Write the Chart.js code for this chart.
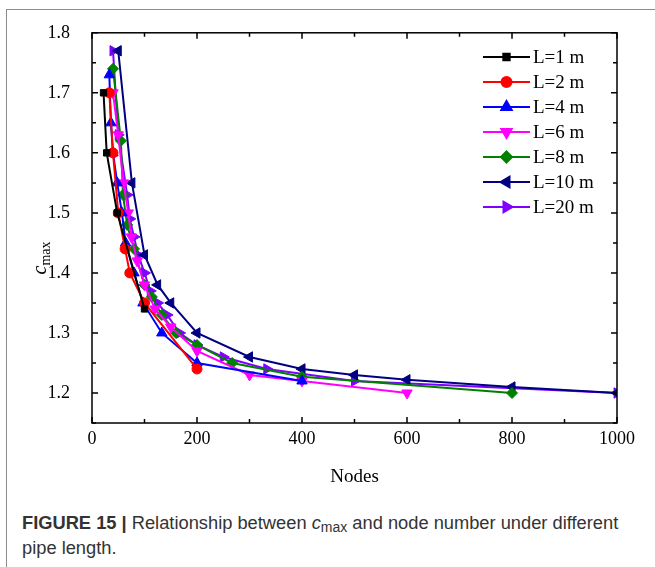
<!DOCTYPE html>
<html>
<head>
<meta charset="utf-8">
<script src="https://cdn.jsdelivr.net/npm/chart.js@4.4.0/dist/chart.umd.min.js"></script>
<style>
  html, body { margin: 0; padding: 0; background: #fff; }
  body { width: 655px; height: 567px; position: relative; overflow: hidden; }
  #frame { position: absolute; left: 6px; top: 9px; width: 700px; height: 600px;
           border-left: 1.5px solid #8c8c8c; border-top: 1.5px solid #8c8c8c; }
  #wrap { position: absolute; left: 0; top: 0; width: 655px; height: 500px; }
  #caption { position: absolute; left: 22px; top: 510px; width: 608px;
             font-family: "Liberation Sans", Arial, sans-serif; font-size: 18.3px;
             line-height: 25px; color: #333; }
  #caption b { color: #333; }
  #caption sub { font-size: 14px; vertical-align: -3px; line-height: 0; }
</style>
</head>
<body>
<div id="frame"></div>
<div id="wrap"><canvas id="cmaxChart"></canvas></div>
<div id="caption"><b>FIGURE 15 |</b> Relationship between <i>c</i><sub>max</sub> and node number under different pipe length.</div>
<script>
// values
const nodesL1 = [22, 28, 48, 100];
const cmaxL1 = [1.70, 1.60, 1.50, 1.34];
const nodesL2 = [33, 40, 50, 63, 72, 100, 200];
const cmaxL2 = [1.70, 1.60, 1.50, 1.44, 1.40, 1.35, 1.24];
const nodesL4 = [33, 36, 40, 48, 57, 64, 80, 97, 133, 200, 400];
const cmaxL4 = [1.73, 1.65, 1.60, 1.55, 1.50, 1.45, 1.40, 1.35, 1.30, 1.25, 1.22];
const nodesL6 = [40, 50, 60, 69, 75, 86, 100, 120, 150, 200, 300, 400, 600];
const cmaxL6 = [1.70, 1.63, 1.55, 1.50, 1.46, 1.42, 1.38, 1.34, 1.31, 1.27, 1.23, 1.22, 1.20];
const nodesL8 = [40, 55, 59, 67, 80, 100, 114, 133, 160, 200, 267, 400, 800];
const cmaxL8 = [1.74, 1.62, 1.53, 1.48, 1.44, 1.38, 1.36, 1.33, 1.30, 1.28, 1.25, 1.227, 1.20];
const nodesL10 = [50, 76, 100, 125, 150, 200, 300, 400, 500, 600, 800, 1000];
const cmaxL10 = [1.77, 1.55, 1.43, 1.38, 1.35, 1.30, 1.26, 1.24, 1.23, 1.222, 1.21, 1.20];
const nodesL20 = [40, 50, 67, 72, 80, 88, 100, 111, 125, 143, 167, 200, 250, 333, 500, 1000];
const cmaxL20 = [1.77, 1.63, 1.53, 1.49, 1.46, 1.43, 1.40, 1.37, 1.35, 1.33, 1.30, 1.28, 1.26, 1.24, 1.22, 1.20];

const seriesLabels = ['L=1 m', 'L=2 m', 'L=4 m', 'L=6 m', 'L=8 m', 'L=10 m', 'L=20 m'];
const xTicks = [0, 200, 400, 600, 800, 1000];
const yTicks = [1.2, 1.3, 1.4, 1.5, 1.6, 1.7, 1.8];

const allNodes = [nodesL1, nodesL2, nodesL4, nodesL6, nodesL8, nodesL10, nodesL20];
const allCmax = [cmaxL1, cmaxL2, cmaxL4, cmaxL6, cmaxL8, cmaxL10, cmaxL20];
const colors = ['#000000', '#ff0000', '#0000ff', '#ff00ff', '#008000', '#000080', '#8000ff'];
const styles = ['rect', 'circle', 'triangle', 'triangle', 'rectRot', 'triangle', 'triangle'];
const rotations = [0, 0, 0, 180, 0, 270, 90];
const radii = [4.5, 5, 6, 6, 5.5, 6, 6];

const datasets = seriesLabels.map((lab, i) => ({
  label: lab,
  data: allNodes[i].map((n, j) => ({ x: n, y: allCmax[i][j] })),
  borderColor: colors[i],
  backgroundColor: colors[i],
  pointBackgroundColor: colors[i],
  pointBorderColor: colors[i],
  pointStyle: styles[i],
  rotation: rotations[i],
  pointRadius: radii[i],
  pointBorderWidth: 1,
  borderWidth: 2,
  showLine: true,
  tension: 0
}));

const serif = '"Liberation Serif", "Times New Roman", serif';

// frame, inward ticks, legend and y title
const decorPlugin = {
  id: 'decor',
  afterDraw(chart) {
    const { ctx, chartArea: a, scales } = chart;
    const xs = scales.x, ys = scales.y;
    ctx.save();
    ctx.strokeStyle = '#000';
    ctx.lineWidth = 1.5;
    ctx.strokeRect(a.left, a.top, a.right - a.left, a.bottom - a.top);
    ctx.beginPath();
    for (let v = 0; v <= 1000; v += 100) {
      const px = xs.getPixelForValue(v);
      const len = v % 200 === 0 ? 6 : 4;
      ctx.moveTo(px, a.bottom); ctx.lineTo(px, a.bottom - len);
      ctx.moveTo(px, a.top); ctx.lineTo(px, a.top + len);
    }
    for (let k = 0; k <= 13; k++) {
      const v = 1.15 + k * 0.05;
      const py = ys.getPixelForValue(v);
      const len = k % 2 === 1 ? 6 : 4;
      ctx.moveTo(a.left, py); ctx.lineTo(a.left + len, py);
      ctx.moveTo(a.right, py); ctx.lineTo(a.right - len, py);
    }
    ctx.stroke();

    // legend
    const lx = 483, ly = 57, gap = 25;
    chart.data.datasets.forEach((ds, i) => {
      const y = ly + i * gap;
      ctx.strokeStyle = ds.borderColor;
      ctx.lineWidth = 2;
      ctx.beginPath();
      ctx.moveTo(lx, y); ctx.lineTo(lx + 47, y);
      ctx.stroke();
      ctx.fillStyle = ds.backgroundColor;
      Chart.helpers.drawPoint(ctx, {
        pointStyle: ds.pointStyle, rotation: ds.rotation,
        radius: ds.pointRadius, borderWidth: 1
      }, lx + 23.5, y);
      ctx.fillStyle = '#000';
      ctx.font = '19px ' + serif;
      ctx.textAlign = 'left';
      ctx.textBaseline = 'middle';
      ctx.fillText(ds.label, lx + 50, y + 1);
    });

    // y axis title: c_max
    ctx.translate(40, 258);
    ctx.rotate(-Math.PI / 2);
    ctx.fillStyle = '#000';
    ctx.textBaseline = 'alphabetic';
    ctx.textAlign = 'left';
    ctx.font = 'italic 20px ' + serif;
    const cw = ctx.measureText('c').width;
    ctx.font = '14px ' + serif;
    const mw = ctx.measureText('max').width;
    const start = -(cw + mw) / 2;
    ctx.font = 'italic 20px ' + serif;
    ctx.fillText('c', start, 6);
    ctx.font = '14px ' + serif;
    ctx.fillText('max', start + cw, 10);
    ctx.restore();
  }
};

const ctx1 = document.getElementById('cmaxChart');
const cmaxChart = new Chart(ctx1.getContext('2d'), {
  type: 'scatter',
  data: { datasets: datasets },
  options: {
    responsive: true,
    maintainAspectRatio: false,
    animation: false,
    layout: { padding: { left: 0, right: 38, top: 32, bottom: 0 } },
    plugins: {
      legend: { display: false },
      tooltip: { enabled: false }
    },
    scales: {
      x: {
        type: 'linear',
        min: 0, max: 1000,
        afterFit: s => { s.height = 77; },
        afterBuildTicks: s => { s.ticks = xTicks.map(v => ({ value: v })); },
        grid: { display: false, drawTicks: false },
        border: { display: false },
        ticks: { color: '#000', font: { family: serif, size: 18 }, padding: 5, maxRotation: 0, callback: v => String(v) },
        title: { display: true, text: 'Nodes', color: '#000', font: { family: serif, size: 19 }, padding: { top: 4, bottom: 12 } }
      },
      y: {
        type: 'linear',
        min: 1.15, max: 1.8,
        afterFit: s => { s.width = 92; },
        afterBuildTicks: s => { s.ticks = yTicks.map(v => ({ value: v })); },
        grid: { display: false, drawTicks: false },
        border: { display: false },
        ticks: { color: '#000', font: { family: serif, size: 18 }, padding: 22, callback: v => v.toFixed(1) }
      }
    }
  },
  plugins: [decorPlugin]
});
</script>
</body>
</html>
